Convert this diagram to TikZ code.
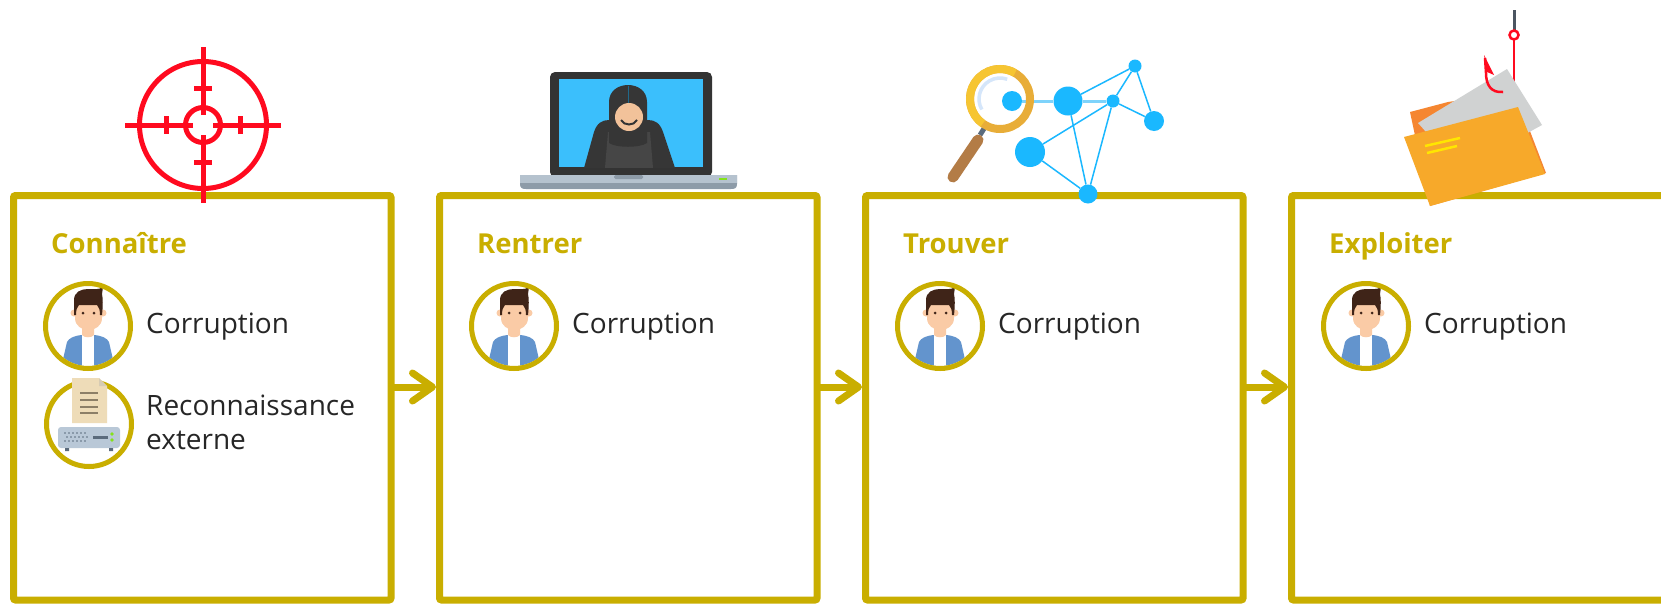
\documentclass[tikz,border=0pt]{standalone}
\usepackage{fontspec}
\setmainfont{Open Sans}
\usetikzlibrary{positioning,calc,arrows.meta}
\definecolor{gold}{HTML}{C9AE00}
\definecolor{ink}{HTML}{262626}
\definecolor{alert}{HTML}{FF0A1F}
\definecolor{skin}{HTML}{FACBA6}
\definecolor{hair}{HTML}{3F2418}
\definecolor{jacket}{HTML}{6394CD}
\definecolor{paper}{HTML}{EEDCB8}
\definecolor{paperfold}{HTML}{D6CBB4}
\definecolor{paperline}{HTML}{8C7F67}
\definecolor{steel}{HTML}{B9C8D7}
\definecolor{steeldark}{HTML}{5B6B7C}
\definecolor{led}{HTML}{84E21A}
\definecolor{bezel}{HTML}{333333}
\definecolor{screen}{HTML}{3BBFFC}
\definecolor{laptopbase}{HTML}{B5C2CE}
\definecolor{basedark}{HTML}{8D9BA8}
\definecolor{hood}{HTML}{363636}
\definecolor{hoodlight}{HTML}{464646}
\definecolor{face}{HTML}{F2C29A}
\definecolor{net}{HTML}{1AB8FF}
\definecolor{netlight}{HTML}{7ED3FB}
\definecolor{lensA}{HTML}{F6C532}
\definecolor{lensB}{HTML}{E8AD38}
\definecolor{glare}{HTML}{D5E6FA}
\definecolor{wood}{HTML}{B37C46}
\definecolor{folder}{HTML}{F7A92A}
\definecolor{folderback}{HTML}{F58631}
\definecolor{sheet}{HTML}{D0D2D2}
\definecolor{stripe}{HTML}{FFE600}
\definecolor{fishline}{HTML}{4B5561}
\tikzset{
  stage/.style={draw=gold, line width=7pt, rounded corners=2pt, minimum width=377.5pt, minimum height=404.5pt, inner sep=0pt},
  flow/.style={draw=gold, line width=7pt, line cap=round, -{Straight Barb[length=20pt,width=28pt,round]}},
  stagetitle/.style={text=gold, font=\bfseries\fontsize{27.5}{34}\selectfont, anchor=base west, inner sep=0pt},
  item/.style={text=ink, font=\fontsize{28}{34}\selectfont, anchor=base west, inner sep=0pt, align=left},
  ring/.style={draw=gold, line width=5pt},
  sight/.style={draw=alert, line width=5pt},
  netdot/.style={circle, fill=net, inner sep=0pt},
  netlink/.style={draw=net, line width=1.5pt},
  avatar/.pic={
    \fill[white] (0,0) circle (40);
    \begin{scope}
      \clip (0,0) circle (40);
      \fill[jacket] (-27,42) -- (-21,16) .. controls (-19,12) and (-14,10) .. (-7,9) -- (7,9) .. controls (14,10) and (19,12) .. (21,16) -- (27,42) -- cycle;
      \fill[white] (-6,9) rectangle (6,42);
    \end{scope}
    \fill[skin] (-6,-2) -- (6,-2) -- (6,9) .. controls (4,12) and (-4,12) .. (-6,9) -- cycle;
    \fill[skin] (-14,-13) circle (3.5) (15,-13) circle (3.5);
    \fill[skin] (-13,-26) -- (-13,-8) .. controls (-13,0) and (-6,4) .. (0.5,4) .. controls (7,4) and (14,0) .. (14,-8) -- (14,-26) -- cycle;
    \fill[hair] (-14,-11) -- (-14,-26) .. controls (-14,-34) and (-7,-37) .. (0,-37) .. controls (6,-37) and (11,-36) .. (15,-39) -- (14,-32) .. controls (15,-28) and (15,-20) .. (14,-11) -- (12,-11) .. controls (12,-16) and (11,-19) .. (9,-21) -- (-9,-21) .. controls (-11,-19) and (-12,-16) .. (-12,-11) -- cycle;
    \fill[hair] (-5,-13) circle (1.5) (6,-13) circle (1.5);
    \draw[ring] (0,0) circle (42.5);
  },
  server/.pic={
    \fill[white] (0,0) circle (40);
    \draw[ring] (0,0) circle (42.5);
    \fill[paper] (-17,-46) -- (10,-46) -- (18,-38) -- (18,-1) -- (-17,-1) -- cycle;
    \fill[paperfold] (10,-46) -- (10,-38) -- (18,-38) -- cycle;
    \foreach \y in {-31,-24,-17,-11} \draw[paperline, line width=2.5pt] (-9,\y) -- (9,\y);
    \fill[steel, rounded corners=3pt] (-31,3) rectangle (31,24);
    \foreach \x in {-24,-20,...,-4} \fill[steeldark] (\x,9) circle (0.9) (\x+2,13) circle (0.9) (\x,17) circle (0.9);
    \draw[steeldark, line width=3pt] (4,13) -- (19,13);
    \fill[led] (23,10) circle (1.8) (23,16) circle (1.8);
    \fill[steeldark] (-24,24) rectangle (-20,27) (20,24) rectangle (24,27);
  },
  crosshair/.pic={
    \draw[sight] (0,0) circle (63.5);
    \draw[sight] (0,0) circle (17.5);
    \foreach \a in {0,90,180,270} {
      \draw[sight] (\a:10) -- (\a:78);
      \draw[sight] (\a:37) ++(\a+90:9) -- ++(\a-90:18);
    }
  }
}
\begin{document}
\begin{tikzpicture}[x=1pt, y=-1pt]
  \clip (0,0) rectangle (1661,603);
  \fill[white] (0,0) rectangle (1661,603);

  % the four stages, left to right
  \node[stage] (s1) at (202.25,397.75) {};
  \node[stage, right=41.5pt of s1] (s2) {};
  \node[stage, right=41.5pt of s2] (s3) {};
  \node[stage, right=41.5pt of s3] (s4) {};

  \draw[flow] ([yshift=10.75pt]s1.east) -- ([yshift=10.75pt]s2.west);
  \draw[flow] ([yshift=10.75pt]s2.east) -- ([yshift=10.75pt]s3.west);
  \draw[flow] ([yshift=10.75pt]s3.east) -- ([yshift=10.75pt]s4.west);

  \node[stagetitle] (t1) at ($(s1.north west)+(41,61)$) {Connaître};
  \node[stagetitle] (t2) at ($(s2.north west)+(41,61)$) {Rentrer};
  \node[stagetitle] (t3) at ($(s3.north west)+(41,61)$) {Trouver};
  \node[stagetitle] (t4) at ($(s4.north west)+(41,61)$) {Exploiter};

  \pic at ($(s1.north west)+(78,134)$) {avatar};
  \pic at ($(s1.north west)+(79,232)$) {server};
  \pic at ($(s2.north west)+(78,134)$) {avatar};
  \pic at ($(s3.north west)+(78,134)$) {avatar};
  \pic at ($(s4.north west)+(78,134)$) {avatar};

  % a multi-line node sits on its last baseline
  \node[item] (i1) at ($(s1.north west)+(136,141)$) {Corruption};
  \node[item] (i2) at ($(s1.north west)+(136,257)$) {Reconnaissance\\externe};
  \node[item] (i3) at ($(s2.north west)+(136,141)$) {Corruption};
  \node[item] (i4) at ($(s3.north west)+(136,141)$) {Corruption};
  \node[item] (i5) at ($(s4.north west)+(136,141)$) {Corruption};

  % stage icons
  \pic at (203,125) {crosshair};

  % laptop with hooded figure
  \fill[bezel, rounded corners=5pt] (550,72) rectangle (712,177);
  \fill[screen] (559,79) rectangle (703,167);
  \begin{scope}
    \clip (559,79) rectangle (703,167);
    \fill[hood] (584,168) -- (594,132) .. controls (597,123) and (602,120) .. (609,120) -- (648,120) .. controls (655,120) and (660,123) .. (663,132) -- (675,168) -- cycle;
    \fill[hoodlight] (605,168) -- (608,132) -- (650,132) -- (653,168) -- cycle;
    \fill[hood] (609,143) -- (609,102) .. controls (609,91) and (618,85) .. (628,85) .. controls (638,85) and (647,91) .. (647,102) -- (647,143) .. controls (640,148) and (616,148) .. (609,143) -- cycle;
    \draw[screen!55!black, line width=0.8pt] (628,86) -- (628,103);
    \fill[face] (629,117) circle (14);
    \draw[bezel, line width=2pt] (621,120) .. controls (624,126) and (634,126) .. (637,120);
  \end{scope}
  \fill[basedark] (520,175) -- (737,175) -- (737,184) .. controls (737,188) and (735,189) .. (731,189) -- (526,189) .. controls (522,189) and (520,188) .. (520,184) -- cycle;
  \fill[laptopbase] (520,175) rectangle (737,183);
  \fill[basedark, rounded corners=1.5pt] (614,175) rectangle (643,179);
  \fill[led] (719,178) rectangle (727,180);

  % network under the lens
  \node[netdot, minimum size=20pt] (n1) at (1012,101) {};
  \node[netdot, minimum size=29pt] (n2) at (1068,101) {};
  \node[netdot, minimum size=13pt] (n3) at (1113,101) {};
  \node[netdot, minimum size=13pt] (n4) at (1135,66) {};
  \node[netdot, minimum size=20pt] (n5) at (1154,121) {};
  \node[netdot, minimum size=30pt] (n6) at (1030,152) {};
  \node[netdot, minimum size=19pt] (n7) at (1088,194) {};
  \draw[netlink, netlight, line width=3pt] (n1) -- (n2) -- (n3);
  \draw[netlink] (n2) -- (n4);
  \draw[netlink] (n3) -- (n4);
  \draw[netlink] (n4) -- (n5);
  \draw[netlink] (n3) -- (n5);
  \draw[netlink] (n3) -- (n6);
  \draw[netlink] (n2) -- (n7);
  \draw[netlink] (n3) -- (n7);
  \draw[netlink] (n6) -- (n7);
  \draw[steeldark, line width=5pt] (985,127) -- (980,135);
  \draw[wood, line width=11pt, line cap=round] (978,140) -- (953,177);
  \draw[lensB, line width=8pt] (1000,99) circle (30);
  \draw[lensA, line width=8pt] ([shift={(-235:30)}]1000,99) arc[start angle=-235, end angle=-60, radius=30];
  \draw[glare, line width=3.5pt] ([shift={(-210:21)}]1000,99) arc[start angle=-210, end angle=-70, radius=21];

  % folder on a hook
  \draw[fishline, line width=3pt] (1514,10) -- (1514,31);
  \draw[alert, line width=2.5pt] (1514,35) circle (4.5);
  \draw[alert, line width=2.5pt] (1514,40) -- (1514,84);
  \fill[folderback] (1410,112) -- (1448,102) -- (1515,92) -- (1546,173) -- (1430,206) -- cycle;
  \fill[sheet] (1418,123) -- (1507,69) -- (1542,125) -- (1460,170) -- cycle;
  \draw[alert, line width=2.5pt] (1503,92) .. controls (1491,93) and (1486,85) .. (1486,73) -- (1485,58);
  \fill[alert] (1484,55) -- (1494,75) -- (1487,72) -- cycle;
  \fill[folder] (1404,137) -- (1518,107) -- (1545,174) -- (1430,206) -- cycle;
  \draw[stripe, line width=2.5pt] (1425,146) -- (1460,138);
  \draw[stripe, line width=2.5pt] (1427,153) -- (1457,146);
\end{tikzpicture}
\end{document}
